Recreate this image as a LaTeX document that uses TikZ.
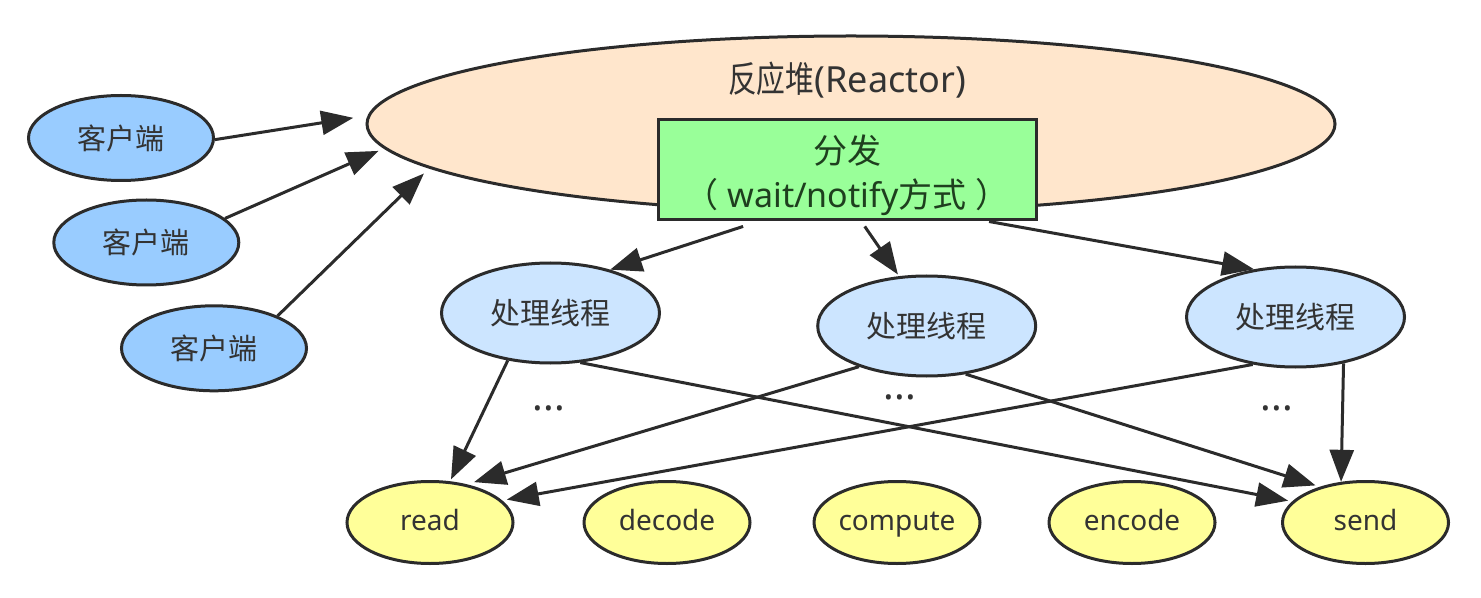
\documentclass[tikz,border=0pt]{standalone}
\usepackage{fontspec}
\setmainfont{Noto Sans}
\newfontfamily\cjk{Noto Sans CJK SC}
\newfontfamily\cjknarrow[FakeStretch=0.8]{Noto Sans CJK SC}
\usetikzlibrary{shapes.geometric,arrows.meta}
\definecolor{edge}{HTML}{2B2B2B}
\definecolor{reactorfill}{HTML}{FFE6CC}
\definecolor{boxfill}{HTML}{99FF99}
\definecolor{clientfill}{HTML}{99CCFF}
\definecolor{threadfill}{HTML}{CCE5FF}
\definecolor{taskfill}{HTML}{FFFF99}
\definecolor{txt}{HTML}{333333}
\definecolor{boxtxt}{HTML}{1E3F1E}
\tikzset{
  oval/.style={ellipse, draw=edge, line width=1.5pt, inner sep=0pt, text=txt},
  reactor/.style={oval, fill=reactorfill, minimum width=484pt, minimum height=88pt},
  client/.style={oval, fill=clientfill, minimum width=92.5pt, minimum height=42.5pt, font=\cjk\fontsize{14.5pt}{17pt}\selectfont},
  thread/.style={oval, fill=threadfill, minimum width=109pt, minimum height=50pt, font=\cjk\fontsize{15pt}{18pt}\selectfont},
  task/.style={oval, fill=taskfill, minimum width=83pt, minimum height=41pt, text height=10.5pt, text depth=3pt, font=\fontsize{14pt}{17pt}\selectfont},
  greenbox/.style={rectangle, draw=edge, line width=1.5pt, fill=boxfill, minimum width=189pt, minimum height=50pt, inner sep=0pt},
  dots/.style={text=txt, inner sep=0pt, font=\fontsize{20pt}{22pt}\selectfont},
  conn/.style={draw=edge, line width=1.5pt, -{Triangle[length=16pt,width=12pt]}},
}
\begin{document}
\begin{tikzpicture}[x=0.5pt, y=-0.5pt]
\useasboundingbox (0,0) rectangle (1481,598);
% reactor
\node[reactor] (reactor) at (851,124) {};
\node[text=txt, inner sep=0pt, font=\fontsize{18pt}{22pt}\selectfont] (title) at (847,80) {{\cjknarrow 反应堆}(Reactor)};
\node[greenbox] (box) at (847.5,170) {};
\node[align=center, text=boxtxt, inner sep=0pt, font=\fontsize{17pt}{22pt}\selectfont] (boxlabel) at (847,175) {{\cjk 分发}\\{\cjk （} wait/notify{\cjk 方式} {\cjk ）}};
% clients
\node[client] (c1) at (121,138) {客户端};
\node[client] (c2) at (146.3,242.5) {客户端};
\node[client] (c3) at (214,348.3) {客户端};
% threads
\node[thread] (t1) at (550.5,313) {处理线程};
\node[thread] (t2) at (926.7,326) {处理线程};
\node[thread] (t3) at (1295.5,317) {处理线程};
% tasks
\node[task] (read) at (430,522.5) {read};
\node[task] (decode) at (667,522.5) {decode};
\node[task] (compute) at (897,522.5) {compute};
\node[task] (encode) at (1132,522.5) {encode};
\node[task] (send) at (1365.5,522.5) {send};
% dots
\node[dots] (dots1) at (549,408) {...};
\node[dots] (dots2) at (900,397) {...};
\node[dots] (dots3) at (1277,408) {...};
% client arrows
\draw[conn, shorten >=7.3pt] (c1.-1) -- (reactor.179.4);
\draw[conn, shorten >=3pt] (c2.17) -- (reactor.183.75);
\draw[conn, shorten >=3.7pt] (c3.27) -- (reactor.186.4);
% dispatch arrows
\draw[conn, shorten <=8pt] (box.210.3) -- (t1.36);
\draw[conn, shorten <=3pt, shorten >=1pt] (box.285.9) -- (t2.119.2);
\draw[conn] (box.340.5) -- (t3.131);
% thread to task arrows
\draw[conn, shorten >=1pt] (t1.228) -- (read.64);
\draw[conn, shorten >=2pt] (t1.-59) -- (send.164);
\draw[conn, shorten >=3.7pt] (t2.211) -- (read.46);
\draw[conn, shorten >=2.2pt] (t2.-51) -- (send.142);
\draw[conn, shorten >=2.3pt] (t3.228) -- (read.17);
\draw[conn] (t3.-44.4) -- (send.121);
\end{tikzpicture}
\end{document}
